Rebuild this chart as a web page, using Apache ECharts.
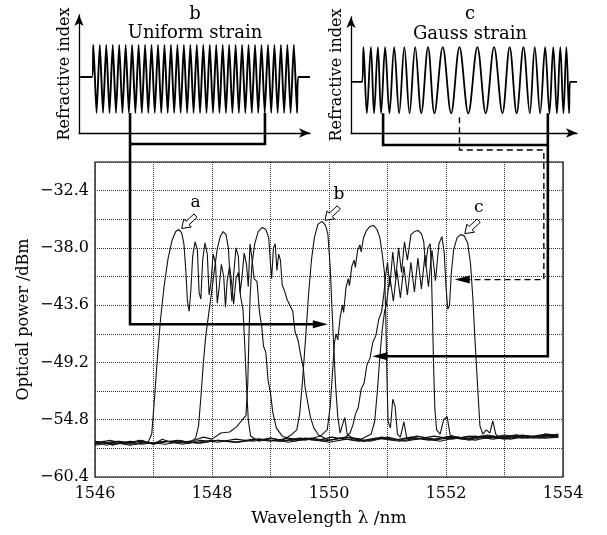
<!DOCTYPE html>
<html>
<head>
<meta charset="utf-8">
<script src="https://cdn.jsdelivr.net/npm/echarts@6/dist/echarts.min.js"></script>
<style>
  html, body { margin: 0; padding: 0; background: #fff; }
  #chart { width: 607px; height: 535px; }
</style>
</head>
<body>
<div id="chart"></div>
<script>
const FONT = 'DejaVu Serif';

// main plot tick labels
const wlTicks = [1546, 1548, 1550, 1552, 1554];
const powerTicks = [-60.4, -54.8, -49.2, -43.6, -38.0, -32.4];

// reflection spectra [wavelength nm, power dBm]
const specA = [[1546.00,-57.2],[1546.15,-56.9],[1546.30,-57.3],[1546.45,-57.0],[1546.60,-57.2],[1546.75,-56.8],[1546.90,-57.1],
  [1546.97,-56.2],[1547.02,-52.5],[1547.07,-48.5],[1547.12,-45.0],[1547.18,-41.8],[1547.25,-39.0],[1547.32,-37.2],[1547.38,-36.4],[1547.43,-36.2],[1547.48,-36.5],[1547.52,-37.6],[1547.55,-40.0],[1547.58,-43.2],[1547.61,-44.2],[1547.64,-42.0],[1547.67,-38.8],[1547.71,-37.4],[1547.75,-38.2],[1547.78,-42.4],[1547.81,-43.0],[1547.84,-39.2],[1547.88,-37.5],[1547.92,-38.6],[1547.95,-42.6],[1547.98,-41.5],[1548.02,-38.6],[1548.06,-39.5],[1548.09,-43.4],[1548.12,-42.0],[1548.16,-39.6],[1548.20,-40.8],[1548.23,-43.8],[1548.26,-41.2],[1548.30,-39.8],[1548.34,-41.6],[1548.37,-43.5],[1548.41,-41.0],[1548.45,-40.4],[1548.49,-42.8],[1548.53,-44.0],[1548.56,-47.5],[1548.59,-51.5],[1548.62,-54.8],[1548.66,-56.4],
  [1548.80,-56.9],[1549.00,-56.6],[1549.30,-57.0],[1549.60,-56.7],[1549.90,-56.9],[1550.20,-56.6],[1550.50,-56.9],[1550.80,-56.6],[1551.10,-56.8],[1551.40,-56.5],[1551.70,-56.8],[1552.00,-56.5],[1552.30,-56.7],[1552.60,-56.4],[1552.90,-56.6],[1553.20,-56.3],[1553.50,-56.6],[1553.70,-56.2],[1553.92,-56.4]];

const specB = [[1546.00,-57.0],[1546.20,-57.3],[1546.40,-56.9],[1546.60,-57.1],[1546.80,-56.8],[1547.00,-57.2],[1547.15,-56.7],[1547.30,-57.0],[1547.45,-56.8],[1547.60,-57.1],[1547.72,-56.6],
  [1547.77,-55.4],[1547.81,-52.6],[1547.85,-49.4],[1547.89,-46.8],[1547.94,-44.6],[1547.99,-42.5],[1548.04,-40.2],[1548.09,-38.1],[1548.14,-36.9],[1548.19,-36.4],[1548.24,-36.7],[1548.28,-38.0],[1548.31,-41.0],[1548.34,-43.2],[1548.37,-40.6],[1548.41,-38.0],[1548.45,-38.8],[1548.48,-42.4],[1548.51,-41.0],[1548.55,-38.5],[1548.59,-39.6],[1548.62,-41.8],[1548.65,-37.6],[1548.68,-38.9],[1548.72,-41.0],[1548.77,-41.3],[1548.81,-44.2],[1548.85,-45.7],[1548.88,-47.6],[1548.92,-48.2],[1548.96,-51.0],[1549.00,-52.2],[1549.04,-54.1],[1549.10,-55.6],[1549.20,-56.4],
  [1549.40,-56.9],[1549.70,-56.6],[1550.00,-57.0],[1550.30,-56.7],[1550.60,-56.9],[1550.90,-56.6],[1551.20,-56.9],[1551.50,-56.6],[1551.80,-56.8],[1552.10,-56.5],[1552.40,-56.8],[1552.70,-56.4],[1553.00,-56.7],[1553.30,-56.4],[1553.60,-56.6],[1553.92,-56.3]];

const specC = [[1546.00,-57.1],[1546.25,-56.8],[1546.50,-57.1],[1546.75,-56.9],[1547.00,-57.2],[1547.25,-56.9],[1547.50,-57.0],[1547.70,-56.8],[1547.85,-56.5],[1548.00,-56.7],[1548.15,-56.1],[1548.30,-56.0],[1548.42,-55.5],[1548.52,-54.8],[1548.58,-54.4],
  [1548.61,-51.5],[1548.63,-47.0],[1548.65,-43.0],[1548.68,-39.8],[1548.73,-37.6],[1548.79,-36.4],[1548.86,-36.0],[1548.92,-36.2],[1548.97,-37.0],[1549.00,-39.6],[1549.02,-41.0],[1549.05,-38.0],[1549.08,-37.6],[1549.11,-40.2],[1549.14,-38.6],[1549.17,-39.2],[1549.20,-41.6],[1549.24,-42.2],[1549.28,-43.0],[1549.33,-43.6],[1549.38,-44.2],[1549.42,-46.2],[1549.47,-47.0],[1549.52,-48.6],[1549.56,-49.7],[1549.59,-51.6],[1549.63,-52.9],[1549.68,-54.5],[1549.74,-55.6],[1549.82,-56.3],
  [1550.00,-56.8],[1550.30,-56.5],[1550.60,-56.9],[1550.90,-56.5],[1551.20,-56.8],[1551.50,-56.4],[1551.80,-56.7],[1552.10,-56.4],[1552.40,-56.7],[1552.70,-56.3],[1553.00,-56.6],[1553.30,-56.3],[1553.60,-56.5],[1553.92,-56.2]];

const specUniform = [[1546.00,-56.9],[1546.30,-57.2],[1546.60,-56.9],[1546.90,-57.1],[1547.20,-56.9],[1547.50,-57.2],[1547.80,-56.8],[1548.10,-57.0],[1548.40,-56.7],[1548.70,-56.9],[1549.00,-56.6],[1549.20,-56.8],[1549.35,-56.3],[1549.45,-55.8],
  [1549.50,-54.2],[1549.55,-50.8],[1549.60,-46.8],[1549.65,-42.6],[1549.70,-39.2],[1549.75,-37.0],[1549.81,-35.7],[1549.88,-35.4],[1549.94,-35.8],[1549.98,-36.6],[1550.02,-39.8],[1550.05,-43.8],[1550.08,-47.5],[1550.11,-51.2],[1550.15,-54.5],[1550.19,-56.1],[1550.23,-55.3],[1550.27,-54.6],[1550.31,-56.2],
  [1550.40,-56.6],[1550.70,-56.9],[1551.00,-56.5],[1551.30,-56.9],[1551.60,-56.6],[1551.90,-56.9],[1552.20,-56.5],[1552.50,-56.8],[1552.80,-56.4],[1553.10,-56.7],[1553.40,-56.4],[1553.70,-56.6],[1553.92,-56.5]];

const specX = [[1546.00,-57.3],[1546.30,-57.0],[1546.60,-57.3],[1546.90,-57.0],[1547.20,-57.2],[1547.50,-56.9],[1547.80,-57.1],[1548.10,-56.8],[1548.40,-57.0],[1548.70,-56.7],[1549.00,-56.9],[1549.30,-56.6],[1549.60,-56.8],[1549.85,-56.4],[1549.97,-55.8],
  [1550.02,-53.5],[1550.06,-50.2],[1550.09,-47.4],[1550.12,-46.4],[1550.15,-47.0],[1550.19,-44.8],[1550.23,-43.6],[1550.25,-44.3],[1550.29,-41.9],[1550.33,-41.0],[1550.35,-41.7],[1550.39,-39.8],[1550.43,-39.2],[1550.45,-39.9],[1550.49,-38.2],[1550.53,-37.7],[1550.55,-38.4],[1550.59,-37.0],[1550.64,-36.3],[1550.70,-35.9],[1550.76,-35.8],[1550.82,-36.2],[1550.87,-37.0],[1550.91,-38.6],[1550.95,-40.5],[1550.97,-44.5],[1550.99,-50.5],[1551.01,-55.0],[1551.05,-55.6],[1551.09,-52.8],[1551.13,-53.5],[1551.17,-56.2],[1551.22,-56.5],[1551.28,-55.0],[1551.33,-56.6],
  [1551.50,-56.7],[1551.80,-56.4],[1552.10,-56.7],[1552.40,-56.4],[1552.70,-56.6],[1553.00,-56.3],[1553.30,-56.6],[1553.60,-56.3],[1553.92,-56.5]];

const specY = [[1546.00,-56.9],[1546.35,-57.2],[1546.70,-56.9],[1547.05,-57.1],[1547.40,-56.8],[1547.75,-57.1],[1548.10,-56.8],[1548.45,-57.0],[1548.80,-56.7],[1549.15,-56.9],[1549.50,-56.6],[1549.80,-56.8],[1550.05,-56.5],[1550.25,-56.7],[1550.36,-56.1],
  [1550.41,-55.3],[1550.45,-54.3],[1550.50,-53.6],[1550.55,-51.8],[1550.60,-51.2],[1550.65,-49.4],[1550.70,-48.8],[1550.75,-47.2],[1550.80,-46.6],[1550.85,-45.0],[1550.90,-44.2],[1550.94,-42.4],[1550.97,-40.6],[1551.00,-39.4],[1551.04,-41.8],[1551.09,-38.4],[1551.14,-41.0],[1551.19,-38.0],[1551.24,-40.4],[1551.29,-37.4],[1551.34,-39.2],[1551.40,-36.7],[1551.46,-36.4],[1551.52,-36.3],[1551.58,-36.6],[1551.62,-37.4],[1551.65,-39.8],[1551.69,-38.0],[1551.73,-37.6],[1551.75,-40.2],[1551.77,-45.0],[1551.79,-50.0],[1551.81,-53.8],[1551.84,-55.8],[1551.90,-56.2],[1551.96,-54.8],[1552.02,-54.5],[1552.07,-56.3],
  [1552.20,-56.6],[1552.50,-56.4],[1552.80,-56.7],[1553.10,-56.4],[1553.40,-56.6],[1553.70,-56.3],[1553.92,-56.4]];

const specGauss = [[1546.00,-57.1],[1546.40,-56.9],[1546.80,-57.2],[1547.20,-56.9],[1547.60,-57.1],[1548.00,-56.8],[1548.40,-57.0],[1548.80,-56.7],[1549.20,-56.9],[1549.60,-56.6],[1550.00,-56.8],[1550.30,-56.5],[1550.55,-56.7],[1550.72,-56.2],
  [1550.78,-55.0],[1550.83,-51.8],[1550.87,-48.6],[1550.91,-46.0],[1550.95,-44.2],[1550.98,-43.6],[1551.04,-40.8],[1551.10,-43.2],[1551.16,-40.2],[1551.22,-42.9],[1551.28,-39.8],[1551.34,-42.6],[1551.40,-39.4],[1551.46,-42.3],[1551.52,-39.0],[1551.58,-42.0],[1551.64,-38.7],[1551.70,-41.8],[1551.76,-38.2],[1551.82,-41.2],[1551.88,-37.6],[1551.93,-36.9],[1551.97,-38.5],[1552.00,-41.8],[1552.03,-44.0],[1552.06,-43.6],[1552.09,-40.5],[1552.13,-38.2],[1552.19,-37.0],[1552.25,-36.7],[1552.31,-36.8],[1552.37,-37.5],[1552.42,-39.6],[1552.46,-43.0],[1552.50,-47.5],[1552.54,-51.5],[1552.58,-55.4],[1552.63,-56.2],[1552.69,-55.8],[1552.75,-56.1],[1552.80,-54.9],[1552.85,-56.2],
  [1552.90,-56.5],[1553.20,-56.3],[1553.50,-56.5],[1553.70,-56.2],[1553.92,-56.3]];

// inset gratings: positions of index maxima / minima along the grating (0-100)
const uniformPeaks = [6.2, 9.0, 11.8, 14.6, 17.4, 20.2, 23.0, 25.8, 28.6, 31.4, 34.2, 37.0, 39.8, 42.6, 45.4, 48.2,
  51.0, 53.8, 56.6, 59.4, 62.2, 65.0, 67.8, 70.6, 73.4, 76.2, 79.0, 81.8, 84.6, 87.4, 90.2, 93.0];
const uniformTroughs = [7.6, 10.4, 13.2, 16.0, 18.8, 21.6, 24.4, 27.2, 30.0, 32.8, 35.6, 38.4, 41.2, 44.0, 46.8, 49.6,
  52.4, 55.2, 58.0, 60.8, 63.6, 66.4, 69.2, 72.0, 74.8, 77.6, 80.4, 83.2, 86.0, 88.8, 91.6, 94.4];
const uniformSpan = [0.5, 5.6, 94.9, 100];   // baseline start, grating start, grating end, baseline end
const uniformLevels = [47.5, 74.6, 17];      // baseline, max, min

const gaussPeaks = [5.5, 8.8, 11.9, 15.1, 19.1, 23.6, 28.4, 34.1, 40.6, 48.0, 55.9, 63.3, 70.2, 76.3, 81.3, 85.9, 89.5, 92.6, 95.3];
const gaussTroughs = [7.0, 10.2, 13.3, 17.0, 21.3, 25.9, 31.1, 36.9, 44.3, 51.9, 59.6, 67.0, 73.3, 79.1, 83.7, 87.8, 91.1, 94.0, 96.5];
const gaussSpan = [0.5, 4.9, 96.9, 100];
const gaussLevels = [44, 74, 17];

// annotation anchors
const peakMarks = [['a', [1547.43, -36.2]], ['b', [1549.88, -35.4]], ['c', [1552.27, -36.7]]];
const uniformBracket = [22.1, 80.5];
const gaussBracket = [14.2, 87.1];
const gaussDashX = 48.0;
const uniformArrowTo = [1549.98, -45.47];
const gaussArrowTo = [1550.74, -48.6];
const gaussDashTo = [1552.15, -41.1];

function gratingLine(peaks, troughs, span, lv) {
  const pts = [[span[0], lv[0]], [span[1], lv[0]]];
  for (let i = 0; i < peaks.length; i++) {
    pts.push([peaks[i], lv[1]]);
    if (i < troughs.length) pts.push([troughs[i], lv[2]]);
  }
  pts.push([span[2], lv[0]], [span[3], lv[0]]);
  return pts;
}

const chart = echarts.init(document.getElementById('chart'));

const lbl = { fontFamily: FONT, color: '#000' };
const insetAxisLine = {
  show: true, symbol: ['none', 'arrow'], symbolSize: [7, 11],
  lineStyle: { color: '#000', width: 1.3 }
};

const specs = [specA, specB, specC, specUniform, specX, specY, specGauss];

chart.setOption({
  animation: false,
  backgroundColor: '#fff',
  grid: [
    { left: 95, top: 162, width: 468, height: 315, show: true, borderColor: '#000', borderWidth: 1.2 },
    { left: 79, top: 15, width: 231, height: 118 },
    { left: 351, top: 17, width: 226, height: 116 }
  ],
  xAxis: [
    {
      gridIndex: 0, type: 'value', min: 1546, max: 1554, interval: 1,
      name: 'Wavelength λ /nm', nameLocation: 'middle', nameGap: 33, nameMoveOverlap: false,
      nameTextStyle: { fontFamily: FONT, fontSize: 17, color: '#000' },
      axisLine: { show: false }, axisTick: { show: false },
      axisLabel: Object.assign({ fontSize: 16, margin: 9,
        formatter: v => wlTicks.indexOf(Math.round(v)) >= 0 ? String(Math.round(v)) : '' }, lbl),
      splitLine: { show: true, lineStyle: { color: '#333', type: 'dotted', width: 1 } }
    },
    { gridIndex: 1, type: 'value', min: 0, max: 100, axisLine: insetAxisLine,
      axisTick: { show: false }, axisLabel: { show: false }, splitLine: { show: false } },
    { gridIndex: 2, type: 'value', min: 0, max: 100, axisLine: insetAxisLine,
      axisTick: { show: false }, axisLabel: { show: false }, splitLine: { show: false } }
  ],
  yAxis: [
    {
      gridIndex: 0, type: 'value', min: -60.4, max: -29.6, interval: 2.8,
      name: 'Optical power /dBm', nameLocation: 'middle', nameGap: 63, nameMoveOverlap: false,
      nameTextStyle: { fontFamily: FONT, fontSize: 16, color: '#000' },
      axisLine: { show: false }, axisTick: { show: false },
      axisLabel: Object.assign({ fontSize: 16, margin: 6,
        formatter: v => {
          const r = Math.round(v * 10) / 10;
          return powerTicks.some(t => Math.abs(t - r) < 0.01) ? '\u2212' + Math.abs(r).toFixed(1) : '';
        } }, lbl),
      splitLine: { show: true, lineStyle: { color: '#333', type: 'dotted', width: 1 } }
    },
    { gridIndex: 1, type: 'value', min: 0, max: 100, axisLine: insetAxisLine,
      name: 'Refractive index', nameLocation: 'middle', nameGap: 6,
      nameTextStyle: { fontFamily: FONT, fontSize: 16, color: '#000' },
      axisTick: { show: false }, axisLabel: { show: false }, splitLine: { show: false } },
    { gridIndex: 2, type: 'value', min: 0, max: 100, axisLine: insetAxisLine,
      name: 'Refractive index', nameLocation: 'middle', nameGap: 6,
      nameTextStyle: { fontFamily: FONT, fontSize: 16, color: '#000' },
      axisTick: { show: false }, axisLabel: { show: false }, splitLine: { show: false } }
  ],
  series: specs.map(d => ({
    type: 'line', xAxisIndex: 0, yAxisIndex: 0, data: d,
    showSymbol: false, symbol: 'none',
    lineStyle: { color: '#111', width: 1.1 }
  })).concat([
    { type: 'line', xAxisIndex: 1, yAxisIndex: 1, symbol: 'none', smooth: 0.2,
      data: gratingLine(uniformPeaks, uniformTroughs, uniformSpan, uniformLevels),
      lineStyle: { color: '#000', width: 1.9 } },
    { type: 'line', xAxisIndex: 2, yAxisIndex: 2, symbol: 'none', smooth: 0.35,
      data: gratingLine(gaussPeaks, gaussTroughs, gaussSpan, gaussLevels),
      lineStyle: { color: '#000', width: 1.8 } }
  ])
});

// annotations: peak labels, hollow arrows, and the bracket arrows linking insets to spectra
const px = (g, v) => chart.convertToPixel({ gridIndex: g }, v);
const g = [];

function hollowArrow(tip) {
  const ux = 0.73, uy = -0.68, vx = 0.68, vy = 0.73;
  const L = 19, H = 8, hw = 5.5, sw = 2.3;
  const p = (a, b) => [tip[0] + ux * a + vx * b, tip[1] + uy * a + vy * b];
  return [p(0, 0), p(H, hw), p(H, sw), p(L, sw), p(L, -sw), p(H, -sw), p(H, -hw)];
}
function head(tip, dir) {
  return { type: 'polygon', shape: { points: [tip, [tip[0] - dir * 15, tip[1] - 4], [tip[0] - dir * 15, tip[1] + 4]] },
    style: { fill: '#000' }, z: 20 };
}
function pline(points, extra) {
  return { type: 'polyline', shape: { points }, style: Object.assign({ stroke: '#000', lineWidth: 2.6, fill: null }, extra || {}), z: 20 };
}
function txt(x, y, s, size) {
  return { type: 'text', x, y, style: { text: s, fontFamily: FONT, fontSize: size, fill: '#000', align: 'center', verticalAlign: 'middle' }, z: 20 };
}

peakMarks.forEach(([name, at]) => {
  const p = px(0, at);
  const tip = [p[0] + 3, p[1] - 1];
  g.push({ type: 'polygon', shape: { points: hollowArrow(tip) }, style: { fill: '#fff', stroke: '#000', lineWidth: 1 }, z: 20 });
  g.push(txt(tip[0] + 14, tip[1] - 26, name, 17));
});

// uniform strain inset
const ub0 = px(1, [uniformBracket[0], uniformLevels[2]]);
const ub1 = px(1, [uniformBracket[1], uniformLevels[2]]);
const uAxisY = px(1, [0, 0])[1];
const uTo = px(0, uniformArrowTo);
g.push(pline([[ub1[0], ub1[1]], [ub1[0], uAxisY + 11], [ub0[0], uAxisY + 11]]));
g.push(pline([[ub0[0], ub0[1]], [ub0[0], uTo[1]], [uTo[0] - 12, uTo[1]]]));
g.push(head([uTo[0], uTo[1]], 1));

// gauss strain inset
const gb0 = px(2, [gaussBracket[0], gaussLevels[2]]);
const gb1 = px(2, [gaussBracket[1], gaussLevels[2]]);
const gAxisY = px(2, [0, 0])[1];
const gTo = px(0, gaussArrowTo);
g.push(pline([[gb0[0], gb0[1]], [gb0[0], gAxisY + 12], [gb1[0], gAxisY + 12]]));
g.push(pline([[gb1[0], gb1[1]], [gb1[0], gTo[1]], [gTo[0] + 12, gTo[1]]]));
g.push(head([gTo[0], gTo[1]], -1));

const gd = px(2, [gaussDashX, gaussLevels[2]]);
const dTo = px(0, gaussDashTo);
const dRight = gb1[0] - 4;
g.push(pline([[gd[0], gd[1] + 4], [gd[0], gAxisY + 17], [dRight, gAxisY + 17], [dRight, dTo[1]], [dTo[0] + 12, dTo[1]]],
  { lineWidth: 1.4, lineDash: [6, 4] }));
g.push(head([dTo[0], dTo[1]], -1));

// inset titles
g.push(txt(195, 14, 'b', 18), txt(195, 33, 'Uniform strain', 18));
g.push(txt(470, 14, 'c', 18), txt(470, 34, 'Gauss strain', 18));

chart.setOption({ graphic: g });
</script>
</body>
</html>
